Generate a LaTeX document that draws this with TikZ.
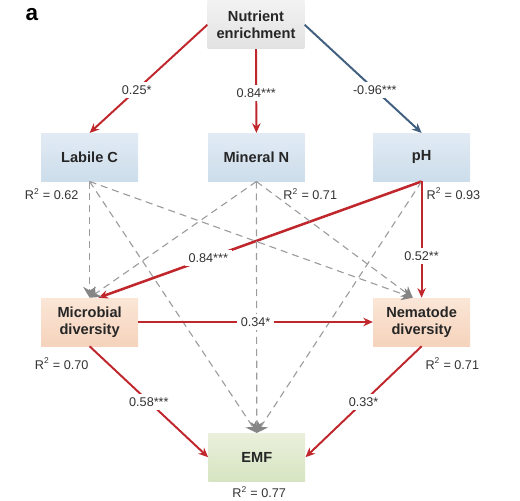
\documentclass[tikz,border=0pt]{standalone}
\usepackage{fontspec}
\setmainfont{Liberation Sans}
\usetikzlibrary{arrows.meta,calc,positioning}
\definecolor{PathRed}{HTML}{C0272D}
\definecolor{PathBlue}{HTML}{41607F}
\definecolor{PathGray}{HTML}{9C9C9C}
\definecolor{HeadGray}{HTML}{858585}
\definecolor{InkDark}{HTML}{262626}
\definecolor{InkSoft}{HTML}{333333}
\definecolor{DrvTop}{HTML}{F2F2F2}
\definecolor{DrvBot}{HTML}{E2E2E2}
\definecolor{SoilTop}{HTML}{E2EBF4}
\definecolor{SoilBot}{HTML}{CCDDEB}
\definecolor{BioTop}{HTML}{FBE6D7}
\definecolor{BioBot}{HTML}{F5D3BC}
\definecolor{FunTop}{HTML}{E9F0DC}
\definecolor{FunBot}{HTML}{D7E4C1}
\tikzset{
  var/.style={minimum width=2.42cm, minimum height=1.2cm, inner sep=1pt, align=center,
              font=\fontsize{10.4}{12}\selectfont\bfseries, text=InkDark},
  coef/.style={font=\fontsize{9}{10}\selectfont, text=InkSoft, fill=white, inner sep=2.5pt},
  r2/.style={font=\fontsize{9}{10}\selectfont, text=InkSoft, inner sep=1pt},
}

\begin{document}
\begin{tikzpicture}[
  driver/.style={var, top color=DrvTop, bottom color=DrvBot},
  soil/.style={var, top color=SoilTop, bottom color=SoilBot},
  biota/.style={var, top color=BioTop, bottom color=BioBot},
  func/.style={var, top color=FunTop, bottom color=FunBot},
  sigpath/.style={-{Stealth[length=2.4mm, width=2.1mm]}, line width=1.4pt, draw=PathRed},
  negpath/.style={-{Stealth[length=2.4mm, width=2.1mm]}, line width=1.4pt, draw=PathBlue},
  ns/.style={-{Stealth[length=2.7mm, width=3.2mm, color=HeadGray, fill=HeadGray]}, line width=0.8pt,
             draw=PathGray, dash pattern=on 5pt off 3.5pt},
]
\useasboundingbox (0,0) rectangle (13,-12.5);
\node[font=\fontsize{16}{18}\selectfont\bfseries] (tag) at (0.8,-0.37) {a};
% ---------- boxes
\node[driver] (NE) at (6.40,-0.62) {Nutrient\\ enrichment};
\node[soil] (LC) at (2.24,-3.93) {Labile C};
\node[soil] (MN) at (6.41,-3.93) {Mineral N};
\node[soil] (PH) at (10.54,-3.93) {pH};
\node[biota] (MD) at (2.24,-8.05) {Microbial\\ diversity};
\node[biota] (ND) at (10.54,-8.05) {Nematode\\ diversity};
\node[func] (EMF) at (6.42,-11.43) {EMF};
% ---------- explained variance
\node[r2] at ($(LC.south west)+(0.27,-0.32)$) {R\textsuperscript{2} = 0.62};
\node[r2] at ($(MN.south east)+(0.13,-0.32)$) {R\textsuperscript{2} = 0.71};
\node[r2] at ($(PH.south east)+(-0.42,-0.30)$) {R\textsuperscript{2} = 0.93};
\node[r2] at ($(MD.south west)+(0.52,-0.43)$) {R\textsuperscript{2} = 0.70};
\node[r2] at ($(ND.south east)+(-0.45,-0.43)$) {R\textsuperscript{2} = 0.71};
\node[r2] at ($(EMF.south)+(0.06,-0.27)$) {R\textsuperscript{2} = 0.77};
% ---------- pH to microbes (under the dashed heads)
\draw[sigpath, line width=1.8pt] (PH.south) -- node[coef, pos=0.66] {0.84***} (MD.70);
% ---------- non-significant paths
\draw[ns] (LC.south) -- (MD.north);
\draw[ns] (LC.south) -- (ND.110);
\draw[ns] (LC.south) -- (EMF.north);
\draw[ns] (MN.south) -- (MD.north);
\draw[ns] (MN.south) -- (ND.110);
\draw[ns] (MN.south) -- (EMF.north);
\draw[ns] (PH.south) -- (EMF.north);
% ---------- significant paths
\draw[sigpath] (NE.west) -- node[coef, pos=0.6] {0.25*} (LC.north);
\draw[sigpath] (NE.south) -- node[coef, pos=0.52] {0.84***} (MN.north);
\draw[negpath] (NE.east) -- node[coef, pos=0.6] {-0.96***} (PH.north);
\draw[sigpath] (PH.south) -- node[coef, pos=0.64] {0.52**} (ND.north);
\draw[sigpath] (MD.east) -- node[coef] {0.34*} (ND.west);
\draw[sigpath] (MD.south) -- node[coef] {0.58***} (EMF.west);
\draw[sigpath] (ND.south) -- node[coef] {0.33*} (EMF.east);
\end{tikzpicture}
\end{document}
